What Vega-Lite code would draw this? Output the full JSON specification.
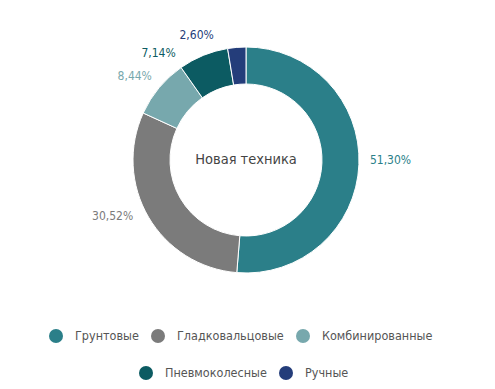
{
  "$schema": "https://vega.github.io/schema/vega-lite/v6.json",
  "width": 492,
  "height": 320,
  "padding": 0,
  "autosize": {"type": "pad"},
  "config": {
    "view": {"stroke": null},
    "font": "DejaVu Sans Condensed, Roboto, sans-serif",
    "text": {"font": "DejaVu Sans Condensed, Roboto, sans-serif"},
    "legend": {"labelFont": "DejaVu Sans Condensed, Roboto, sans-serif"}
  },
  "data": {
    "values": [
      {"cat": "Грунтовые", "share": 51.30, "label": "51,30%", "ord": 1},
      {"cat": "Гладковальцовые", "share": 30.52, "label": "30,52%", "ord": 2},
      {"cat": "Комбинированные", "share": 8.44, "label": "8,44%", "ord": 3},
      {"cat": "Пневмоколесные", "share": 7.14, "label": "7,14%", "ord": 4},
      {"cat": "Ручные", "share": 2.60, "label": "2,60%", "ord": 5}
    ]
  },
  "encoding": {
    "theta": {"field": "share", "type": "quantitative", "stack": true},
    "order": {"field": "ord", "type": "quantitative"}
  },
  "resolve": {"scale": {"color": "independent"}, "legend": {"color": "independent"}},
  "layer": [
    {
      "mark": {"type": "arc", "outerRadius": 113, "innerRadius": 76, "stroke": "white", "strokeWidth": 1},
      "encoding": {
        "color": {
          "field": "cat", "type": "nominal",
          "scale": {
            "domain": ["Грунтовые", "Гладковальцовые", "Комбинированные", "Пневмоколесные", "Ручные"],
            "range": ["#2b7f89", "#7b7b7b", "#77a8ad", "#0c5b62", "#243d7a"]
          },
          "legend": {
            "values": ["Грунтовые", "Гладковальцовые", "Комбинированные"],
            "title": null, "orient": "none", "direction": "horizontal",
            "legendX": 49, "legendY": 329, "padding": 0,
            "symbolType": "circle", "symbolSize": 196, "symbolStrokeWidth": 0,
            "labelFontSize": 12.5, "labelColor": "#555555", "labelOffset": 12,
            "columnPadding": 12
          }
        }
      }
    },
    {
      "mark": {"type": "text", "radius": 124, "align": "left", "baseline": "middle", "dy": -5, "fontSize": 12},
      "encoding": {
        "text": {"condition": {"test": "datum.ord == 1", "field": "label"}, "value": ""},
        "color": {
          "field": "cat", "type": "nominal",
          "scale": {
            "domain": ["Грунтовые", "Гладковальцовые", "Комбинированные", "Пневмоколесные", "Ручные"],
            "range": ["#2b7f89", "#7b7b7b", "#77a8ad", "#0c5b62", "#243d7a"]
          },
          "legend": {
            "values": ["Пневмоколесные", "Ручные"],
            "title": null, "orient": "none", "direction": "horizontal",
            "legendX": 139, "legendY": 366, "padding": 0,
            "symbolType": "circle", "symbolSize": 196, "symbolStrokeWidth": 0,
            "labelFontSize": 12.5, "labelColor": "#555555", "labelOffset": 12,
            "columnPadding": 12
          }
        }
      }
    },
    {
      "mark": {"type": "text", "radius": 125, "align": "right", "baseline": "middle", "dx": -5, "dy": -7, "fontSize": 12},
      "encoding": {
        "text": {"condition": {"test": "datum.ord == 2", "field": "label"}, "value": ""},
        "color": {
          "field": "cat", "type": "nominal", "legend": null,
          "scale": {
            "domain": ["Грунтовые", "Гладковальцовые", "Комбинированные", "Пневмоколесные", "Ручные"],
            "range": ["#2b7f89", "#7b7b7b", "#77a8ad", "#0c5b62", "#243d7a"]
          }
        }
      }
    },
    {
      "mark": {"type": "text", "radius": 125, "align": "right", "baseline": "middle", "dx": 2, "dy": -4, "fontSize": 12},
      "encoding": {
        "text": {"condition": {"test": "datum.ord == 3", "field": "label"}, "value": ""},
        "color": {
          "field": "cat", "type": "nominal", "legend": null,
          "scale": {
            "domain": ["Грунтовые", "Гладковальцовые", "Комбинированные", "Пневмоколесные", "Ручные"],
            "range": ["#2b7f89", "#7b7b7b", "#77a8ad", "#0c5b62", "#243d7a"]
          }
        }
      }
    },
    {
      "mark": {"type": "text", "radius": 125, "align": "right", "baseline": "middle", "dx": -23, "dy": 9, "fontSize": 12},
      "encoding": {
        "text": {"condition": {"test": "datum.ord == 4", "field": "label"}, "value": ""},
        "color": {
          "field": "cat", "type": "nominal", "legend": null,
          "scale": {
            "domain": ["Грунтовые", "Гладковальцовые", "Комбинированные", "Пневмоколесные", "Ручные"],
            "range": ["#2b7f89", "#7b7b7b", "#77a8ad", "#0c5b62", "#243d7a"]
          }
        }
      }
    },
    {
      "mark": {"type": "text", "radius": 125, "align": "right", "baseline": "middle", "dx": -22, "dy": 0, "fontSize": 12},
      "encoding": {
        "text": {"condition": {"test": "datum.ord == 5", "field": "label"}, "value": ""},
        "color": {
          "field": "cat", "type": "nominal", "legend": null,
          "scale": {
            "domain": ["Грунтовые", "Гладковальцовые", "Комбинированные", "Пневмоколесные", "Ручные"],
            "range": ["#2b7f89", "#7b7b7b", "#77a8ad", "#0c5b62", "#243d7a"]
          }
        }
      }
    },
    {
      "data": {"values": [{"title": "Новая техника"}]},
      "mark": {"type": "text", "fontSize": 14.5, "color": "#444444", "baseline": "middle", "align": "center"},
      "encoding": {
        "text": {"field": "title"},
        "theta": null,
        "order": null
      }
    }
  ]
}
